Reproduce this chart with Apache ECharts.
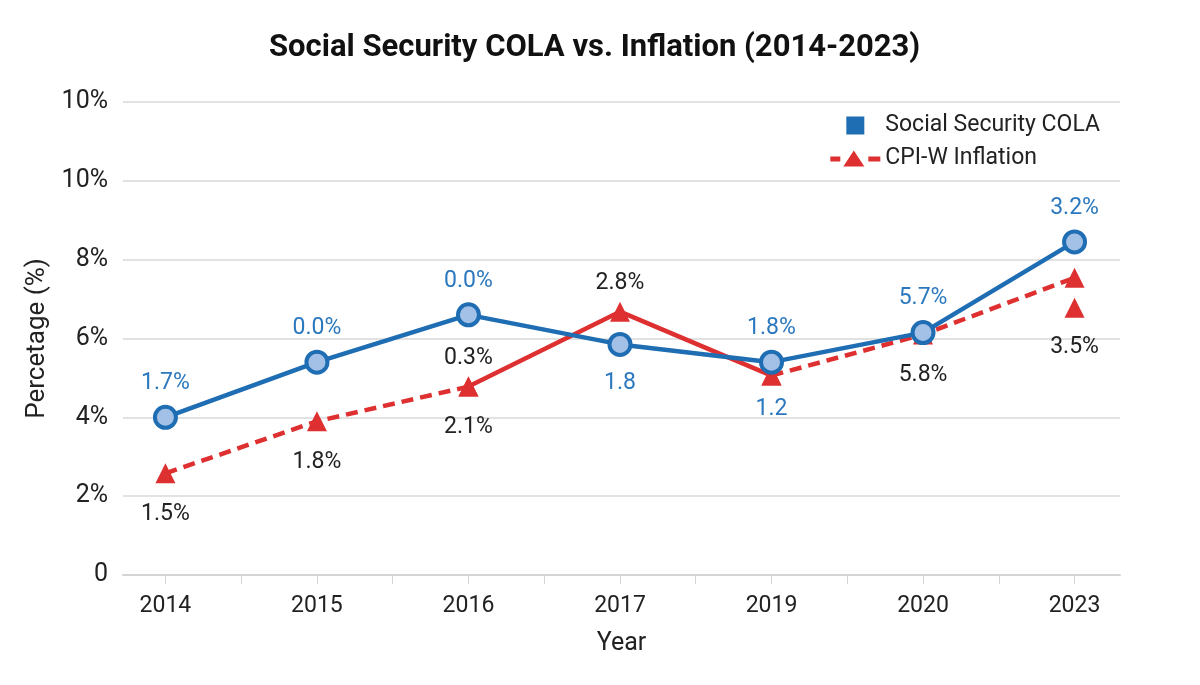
<!DOCTYPE html>
<html>
<head>
<meta charset="utf-8">
<script src="https://cdn.jsdelivr.net/npm/echarts@6/dist/echarts.min.js"></script>
<style>
  html, body { margin: 0; padding: 0; background: #fff; }
  #main { width: 1200px; height: 685px; }
</style>
</head>
<body>
<div id="main"></div>
<script>
// years on the x axis
var years = ['2014', '2015', '2016', '2017', '2019', '2020', '2023'];

// blue line (Social Security COLA)
var colaValues = [4.0, 5.4, 6.6, 5.85, 5.4, 6.15, 8.45];
var colaLabels = ['1.7%', '0.0%', '0.0%', '1.8', '1.8%', '5.7%', '3.2%'];
var colaLabelBelow = [false, false, false, true, false, false, false];

// red line (CPI-W): dashed parts and solid middle part
var cpiDashed = [2.58, 3.9, 4.78, null, 5.06, 6.1, 7.54];
var cpiDashedLabels = ['1.5%', '1.8%', '2.1%', '', '', '5.8%', ''];
var cpiSolid = [null, null, 4.78, 6.68, 5.06, null, null];
var cpiSolidLabels = ['', '', '0.3%', '2.8%', '1.2', '', ''];
var cpiSolidLabelBelow = [false, false, false, false, true, false, false];
var cpiSolidLabelBlue = [false, false, false, false, true, false, false];

// stray extra triangle at 2023
var cpiExtra = [[6, 6.78]];
var cpiExtraLabels = ['3.5%'];

// y tick labels as printed (top one repeats 10%)
var yTickLabels = { 0: '0', 2: '2%', 4: '4%', 6: '6%', 8: '8%', 10: '10%', 12: '10%' };

var blue = '#1f6db3';
var blueText = '#2b78be';
var red = '#de3030';
var dark = '#222';

var myChart = echarts.init(document.getElementById('main'));

var colaData = colaValues.map(function (v, i) {
    return {
        value: [i, v],
        label: {
            formatter: colaLabels[i],
            position: colaLabelBelow[i] ? 'bottom' : 'top',
            distance: colaLabelBelow[i] ? 15 : 10
        }
    };
});

var dashedData = cpiDashed.map(function (v, i) {
    return {
        value: [i, v],
        label: { show: cpiDashedLabels[i] !== '', formatter: cpiDashedLabels[i] }
    };
});

var solidData = cpiSolid.map(function (v, i) {
    return {
        value: [i, v],
        label: {
            show: cpiSolidLabels[i] !== '',
            formatter: cpiSolidLabels[i],
            position: cpiSolidLabelBelow[i] ? 'bottom' : 'top',
            distance: cpiSolidLabelBelow[i] ? 12 : 7,
            color: cpiSolidLabelBlue[i] ? blueText : dark
        }
    };
});

var halfTicks = [];
years.forEach(function (y, i) {
    halfTicks.push(i);
    if (i < years.length - 1) halfTicks.push(i + 0.5);
});

var option = {
    backgroundColor: '#fff',
    textStyle: { fontFamily: 'Roboto' },
    title: {
        text: 'Social Security COLA vs. Inflation (2014-2023)',
        left: 264,
        top: 28,
        textStyle: { fontFamily: 'Roboto', fontSize: 31, fontWeight: 'bold', color: '#111' }
    },
    legend: {
        orient: 'vertical',
        right: 95,
        top: 109,
        itemWidth: 50,
        itemHeight: 18,
        itemGap: 10,
        textStyle: { fontSize: 23, color: dark },
        data: [
            { name: 'Social Security COLA', icon: 'path://M0,0L10,0L10,10L0,10Z', itemStyle: { color: blue, borderWidth: 0 } },
            { name: 'CPI-W Inflation', icon: 'path://M1,6h10v5h-10z M14,16L24.5,0L35,16z M39,6h12v5h-12z', itemStyle: { color: red, borderWidth: 0 } }
        ]
    },
    grid: { left: 123, right: 80, top: 102, bottom: 110 },
    xAxis: {
        type: 'value',
        min: -0.28,
        max: 6.3,
        name: 'Year',
        nameLocation: 'middle',
        nameGap: 56,
        nameTextStyle: { fontSize: 25, color: dark },
        splitLine: { show: false },
        axisLine: { show: true, lineStyle: { color: '#d4d4d4', width: 2 } },
        axisTick: { show: true, customValues: halfTicks, length: 9, lineStyle: { color: '#d4d4d4' } },
        axisLabel: {
            customValues: years.map(function (y, i) { return i; }),
            formatter: function (v) { return years[Math.round(v)]; },
            fontSize: 23,
            color: dark,
            margin: 20
        }
    },
    yAxis: {
        type: 'value',
        min: 0,
        max: 12,
        interval: 2,
        name: 'Percetage (%)',
        nameLocation: 'middle',
        nameGap: 72,
        nameTextStyle: { fontSize: 26, color: dark },
        axisLine: { show: false },
        axisTick: { show: false },
        splitLine: { lineStyle: { color: '#e2e2e2', width: 2 } },
        axisLabel: {
            formatter: function (v) { return yTickLabels[v]; },
            fontSize: 25,
            color: dark,
            margin: 15
        }
    },
    series: [
        {
            name: 'CPI-W Inflation',
            type: 'line',
            data: dashedData,
            connectNulls: false,
            symbol: 'triangle',
            symbolSize: 20,
            itemStyle: { color: red },
            lineStyle: { color: red, width: 4.5, type: [12, 7] },
            label: { show: true, position: 'bottom', distance: 19, fontSize: 23, color: dark },
            z: 2
        },
        {
            name: 'CPI-W Inflation',
            type: 'line',
            data: solidData,
            connectNulls: false,
            symbol: 'triangle',
            symbolSize: 20,
            itemStyle: { color: red },
            lineStyle: { color: red, width: 4.5 },
            label: { show: true, fontSize: 23, color: dark },
            z: 2
        },
        {
            name: 'CPI-W Inflation',
            type: 'scatter',
            data: cpiExtra.map(function (p, i) {
                return { value: p, label: { formatter: cpiExtraLabels[i] } };
            }),
            symbol: 'triangle',
            symbolSize: 20,
            itemStyle: { color: red, opacity: 1 },
            label: { show: true, position: 'bottom', distance: 18, fontSize: 23, color: dark },
            z: 2
        },
        {
            name: 'Social Security COLA',
            type: 'line',
            data: colaData,
            symbol: 'circle',
            symbolSize: 21,
            itemStyle: { color: '#a3c1e6', borderColor: blue, borderWidth: 4 },
            lineStyle: { color: blue, width: 4.5 },
            label: { show: true, fontSize: 23, color: blueText },
            z: 3
        }
    ]
};

myChart.setOption(option);
</script>
</body>
</html>
